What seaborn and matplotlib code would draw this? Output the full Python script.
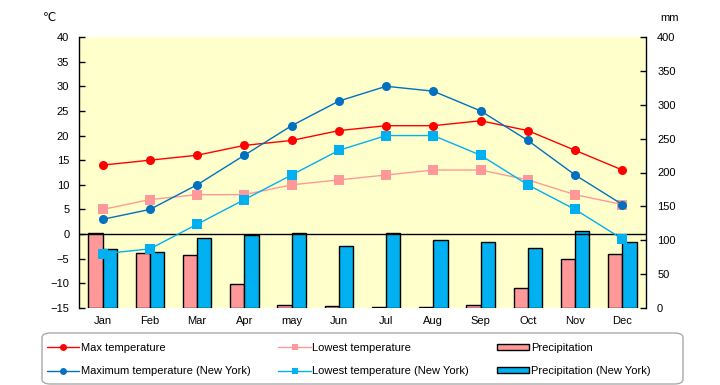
import numpy as np
import pandas as pd
import matplotlib
matplotlib.use("Agg")
import matplotlib.pyplot as plt
import seaborn as sns
from matplotlib.lines import Line2D
from matplotlib.patches import Patch, FancyBboxPatch

months = ["Jan", "Feb", "Mar", "Apr", "may", "Jun", "Jul", "Aug", "Sep", "Oct", "Nov", "Dec"]
max_temp = [14, 15, 16, 18, 19, 21, 22, 22, 23, 21, 17, 13]
low_temp = [5, 7, 8, 8, 10, 11, 12, 13, 13, 11, 8, 6]
ny_max = [3, 5, 10, 16, 22, 27, 30, 29, 25, 19, 12, 6]
ny_low = [-4, -3, 2, 7, 12, 17, 20, 20, 16, 10, 5, -1]
precip = [110, 81, 78, 35, 5, 2.5, 1, 1, 5, 30, 73, 80]
ny_precip = [87, 82, 104, 108, 111, 92, 110, 101, 98, 89, 113, 98]

series_names = ["Max temperature", "Lowest temperature",
                "Maximum temperature (New York)", "Lowest temperature (New York)"]
precip_names = ["Precipitation", "Precipitation (New York)"]

c_red, c_pink, c_blue, c_lblue = "#FF0000", "#FF9999", "#0070C0", "#00B0F0"

sns.set_theme(style="white", rc={"text.color": "black", "axes.labelcolor": "black",
                                 "xtick.color": "black", "ytick.color": "black"})
plt.rcParams["font.family"] = ["Liberation Sans", "DejaVu Sans"]

fig = plt.figure(figsize=(7.2, 3.85), dpi=100)
ax_t = fig.add_axes([79 / 720, 1 - 308 / 385, (646 - 79) / 720, (308 - 37) / 385])
ax_p = ax_t.twinx()

# layering: temperature axis above the bars
ax_t.set_zorder(ax_p.get_zorder() + 1)
ax_t.patch.set_visible(False)
ax_p.patch.set_visible(True)
ax_p.set_facecolor("#FFFFCC")

df_p = pd.DataFrame({
    "month": months * 2,
    "city": [precip_names[0]] * 12 + [precip_names[1]] * 12,
    "mm": precip + ny_precip,
})
sns.barplot(data=df_p, x="month", y="mm", hue="city", order=months,
            hue_order=precip_names, palette=[c_pink, c_lblue],
            edgecolor="black", linewidth=1, width=0.6, gap=0,
            ax=ax_p, legend=False, saturation=1)

pos = np.arange(len(months))
ax_t.axhline(0, color="black", lw=1, zorder=1.5)
styles = [(max_temp, c_red, "o"), (low_temp, c_pink, "s"),
          (ny_max, c_blue, "o"), (ny_low, c_lblue, "s")]
for vals, col, mk in styles:
    sns.lineplot(x=pos, y=vals, ax=ax_t, color=col, marker=mk, markersize=6.5,
                 markeredgewidth=0, linewidth=1, zorder=3)

ax_t.set_xlim(-0.5, 11.5)
ax_t.set_ylim(-15, 40)
ax_t.set_yticks(range(-15, 41, 5))
ax_p.set_ylim(0, 400)
ax_p.set_yticks(range(0, 401, 50))
ax_t.set_xticks(pos)
ax_t.set_xticklabels(months)
for a in (ax_t, ax_p):
    a.set_xlabel("")
    a.set_ylabel("")
    for s in ("top", "bottom"):
        a.spines[s].set_visible(False)
    for s in ("left", "right"):
        a.spines[s].set_color("black")
        a.spines[s].set_linewidth(1)
ax_t.spines["right"].set_visible(False)
ax_p.spines["left"].set_visible(False)

ax_t.tick_params(axis="y", direction="in", length=4, width=1, labelsize=8, pad=7)
ax_p.tick_params(axis="y", direction="in", length=4, width=1, labelsize=8, pad=8)
ax_t.tick_params(axis="x", length=0, labelsize=8, pad=6)

fig.text(50 / 720, 1 - 18 / 385, "℃", ha="center", va="center", fontsize=8.5)
fig.text(670 / 720, 1 - 18 / 385, "mm", ha="center", va="center", fontsize=8)

# legend frame
box = FancyBboxPatch((42 / 720, 1 / 385), 641 / 720, 51 / 385,
                     boxstyle="round,pad=0,rounding_size=0.012",
                     transform=fig.transFigure, facecolor="white",
                     edgecolor="#AAAAAA", linewidth=1)
fig.add_artist(box)

handles = [
    Line2D([], [], color=c_red, marker="o", markersize=5, markeredgewidth=0, lw=1),
    Line2D([], [], color=c_blue, marker="o", markersize=5, markeredgewidth=0, lw=1),
    Line2D([], [], color=c_pink, marker="s", markersize=5, markeredgewidth=0, lw=1),
    Line2D([], [], color=c_lblue, marker="s", markersize=5, markeredgewidth=0, lw=1),
    Patch(facecolor=c_pink, edgecolor="black"),
    Patch(facecolor=c_lblue, edgecolor="black"),
]
labels = [series_names[0], series_names[2], series_names[1], series_names[3],
          precip_names[0], precip_names[1]]
leg = fig.legend(handles, labels, ncol=3, loc="center left",
                 bbox_to_anchor=(47 / 720, 1 - 359.5 / 385),
                 frameon=False, fontsize=8, handlelength=2.9, handleheight=0.5,
                 handletextpad=0.15, borderaxespad=0, borderpad=0,
                 labelspacing=1.2, columnspacing=2.5)

fig.savefig("out.png", dpi=100)
